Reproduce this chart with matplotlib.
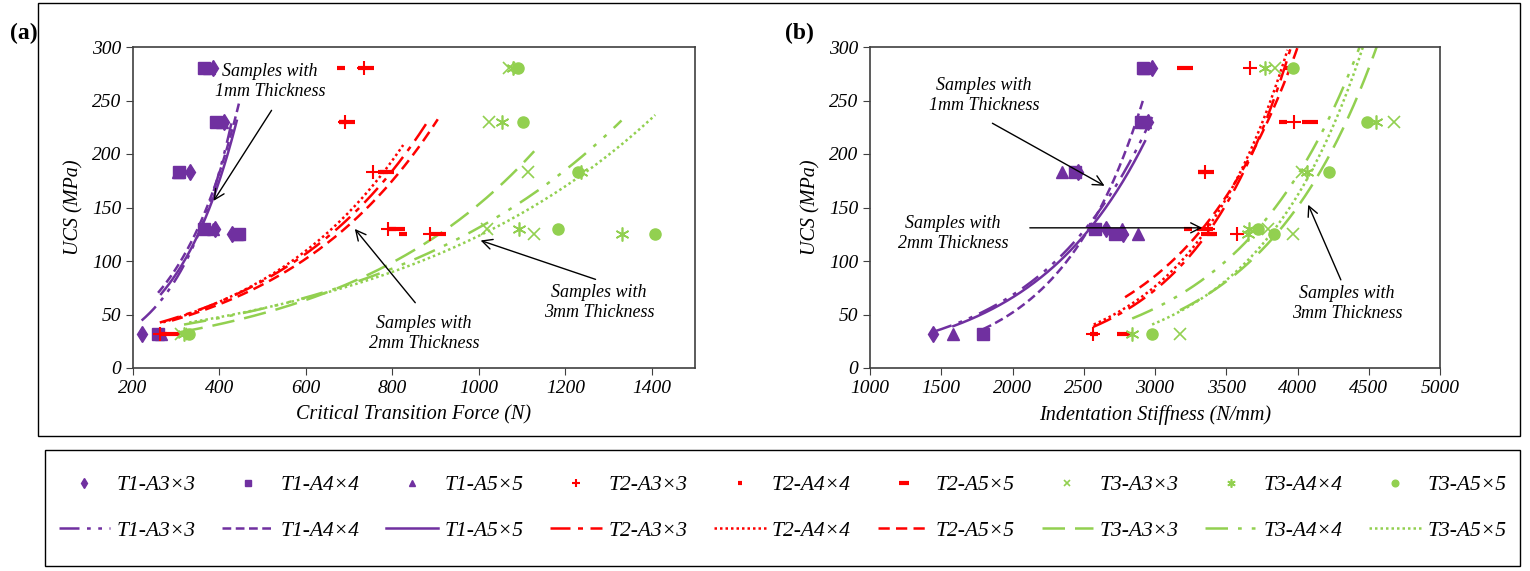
import matplotlib.pyplot as plt
import numpy as np
from matplotlib.lines import Line2D
from matplotlib.patches import Rectangle

plt.rcParams['font.family'] = ['Liberation Serif', 'DejaVu Serif']
plt.rcParams['font.style'] = 'italic'

# UCS level of each sample group (MPa)
ucs = [32, 125, 130, 183, 230, 280]

series = ["T1-A3×3", "T1-A4×4", "T1-A5×5",
          "T2-A3×3", "T2-A4×4", "T2-A5×5",
          "T3-A3×3", "T3-A4×4", "T3-A5×5"]

# (a) critical transition force (N), one value per UCS level
force = {
    "T1-A3×3": [220, 430, 390, 332, 410, 385],
    "T1-A4×4": [258, 445, 365, 306, 393, 365],
    "T1-A5×5": [265, 440, 385, 304, 405, 375],
    "T2-A3×3": [262, 887, 790, 755, 690, 735],
    "T2-A4×4": [270, 825, 800, 780, 685, 682],
    "T2-A5×5": [290, 905, 810, 785, 695, 740],
    "T3-A3×3": [310, 1128, 1020, 1113, 1023, 1070],
    "T3-A4×4": [318, 1330, 1093, 1236, 1053, 1078],
    "T3-A5×5": [330, 1408, 1183, 1230, 1102, 1090],
}

# (b) indentation stiffness (N/mm)
stiffness = {
    "T1-A3×3": [1440, 2775, 2655, 2460, 2950, 2980],
    "T1-A4×4": [1795, 2720, 2580, 2440, 2900, 2915],
    "T1-A5×5": [1585, 2880, 2770, 2350, 2930, 2920],
    "T2-A3×3": [2565, 3575, 3370, 3350, 3975, 3665],
    "T2-A4×4": [2570, 3390, 3232, 3330, 3900, 3930],
    "T2-A5×5": [2790, 3380, 3350, 3360, 4090, 3210],
    "T3-A3×3": [3175, 3970, 3790, 4030, 4680, 3840],
    "T3-A4×4": [2840, 3650, 3660, 4065, 4550, 3770],
    "T3-A5×5": [2980, 3835, 3725, 4220, 4490, 3970],
}

purple, red, green = "#7030A0", "#FF0000", "#92D050"
asterisk = (6, 2, 0)
style = {
    "T1-A3×3": dict(c=purple, m="d", ms=8, mew=1, ls=(0, (8, 3, 1.5, 3, 1.5, 3))),
    "T1-A4×4": dict(c=purple, m="s", ms=8, mew=1, ls=(0, (3.5, 1.8))),
    "T1-A5×5": dict(c=purple, m="^", ms=8, mew=1, ls="-"),
    "T2-A3×3": dict(c=red, m="+", ms=10, mew=1.5, ls=(0, (8, 3, 2, 3))),
    "T2-A4×4": dict(c=red, m="_", ms=6, mew=3, ls=(0, (1, 1.2))),
    "T2-A5×5": dict(c=red, m="_", ms=11, mew=3, ls=(0, (4.5, 2.5))),
    "T3-A3×3": dict(c=green, m="x", ms=8, mew=1.2, ls=(0, (9, 4))),
    "T3-A4×4": dict(c=green, m=asterisk, ms=10, mew=1.2, ls=(0, (9, 4, 1.5, 4, 1.5, 4))),
    "T3-A5×5": dict(c=green, m="o", ms=8, mew=1, ls=(0, (1, 1.2))),
}

W, H = 1530, 571
fig = plt.figure(figsize=(W / 100, H / 100), dpi=100)


def box(l, t, r, b):
    return [l / W, 1 - b / H, (r - l) / W, (b - t) / H]


def draw_panel(ax, xdata, xlim, xticks, xlabel):
    for name in series:
        s = style[name]
        x = np.array(xdata[name], float)
        y = np.array(ucs, float)
        ax.plot(x, y, ls="none", marker=s["m"], ms=s["ms"], mew=s["mew"],
                color=s["c"], zorder=3)
        # exponential trendline fitted over the data range
        b, ln_a = np.polyfit(x, np.log(y), 1)
        xs = np.linspace(x.min(), x.max(), 200)
        ax.plot(xs, np.exp(ln_a + b * xs), color=s["c"], ls=s["ls"], lw=1.8,
                zorder=2)
    ax.set_xlim(*xlim)
    ax.set_ylim(0, 300)
    ax.set_xticks(xticks)
    ax.set_yticks(range(0, 301, 50))
    ax.tick_params(direction="out", length=5, labelsize=14, color="#404040")
    for sp in ax.spines.values():
        sp.set_color("#404040")
        sp.set_linewidth(1.2)
    ax.set_xlabel(xlabel, fontsize=14.5, labelpad=6)
    ax.set_ylabel("UCS (MPa)", fontsize=14.5, labelpad=6)


def note(ax, text, txy, tail, head):
    ax.text(*txy, text, ha="center", va="center", fontsize=13, linespacing=1.25)
    ax.annotate("", xy=head, xytext=tail,
                arrowprops=dict(arrowstyle="->", color="black", lw=1,
                                mutation_scale=18))


ax_a = fig.add_axes(box(133, 47, 695, 368))
draw_panel(ax_a, force, (200, 1500), range(200, 1401, 200),
           "Critical Transition Force (N)")
note(ax_a, "Samples with\n1mm Thickness", (517, 268), (524, 243), (383, 154))
note(ax_a, "Samples with\n2mm Thickness", (873, 32), (857, 59), (709, 132))
note(ax_a, "Samples with\n3mm Thickness", (1278, 61), (1276, 82), (998, 120))

ax_b = fig.add_axes(box(870, 47, 1440, 368))
draw_panel(ax_b, stiffness, (1000, 5000), range(1000, 5001, 500),
           "Indentation Stiffness (N/mm)")
note(ax_b, "Samples with\n1mm Thickness", (1800, 255), (1842, 230), (2663, 169))
note(ax_b, "Samples with\n2mm Thickness", (1582, 126), (2102, 131), (3351, 131))
note(ax_b, "Samples with\n3mm Thickness", (4347, 60), (4312, 80), (4067, 155))

fig.text(10 / W, 1 - 33 / H, "(a)", fontsize=17, fontweight="bold",
         fontstyle="normal", va="center", ha="left")
fig.text(785 / W, 1 - 33 / H, "(b)", fontsize=17, fontweight="bold",
         fontstyle="normal", va="center", ha="left")

# chart-area frame and legend frame
fig.patches.append(Rectangle((38 / W, 1 - 436 / H), 1482 / W, 433 / H,
                             transform=fig.transFigure, fill=False,
                             edgecolor="black", lw=1))
fig.patches.append(Rectangle((45 / W, 1 - 566 / H), 1475 / W, 116 / H,
                             transform=fig.transFigure, fill=False,
                             edgecolor="black", lw=1))

handles, labels = [], []
for name in series:
    s = style[name]
    handles.append(Line2D([], [], ls="none", marker=s["m"], color=s["c"],
                          ms=s["ms"] * 0.6, mew=s["mew"]))
    labels.append(name)
    handles.append(Line2D([], [], ls=s["ls"], color=s["c"], lw=1.8))
    labels.append(name)

fig.legend(handles, labels, ncol=9, loc="center",
           bbox_to_anchor=(50 / W, 1 - 563 / H, 1465 / W, 110 / H),
           mode="expand", frameon=False, fontsize=15.5, handlelength=2.4,
           handletextpad=0.3, labelspacing=1.2, borderaxespad=0)

fig.savefig("out.png", dpi=100)
